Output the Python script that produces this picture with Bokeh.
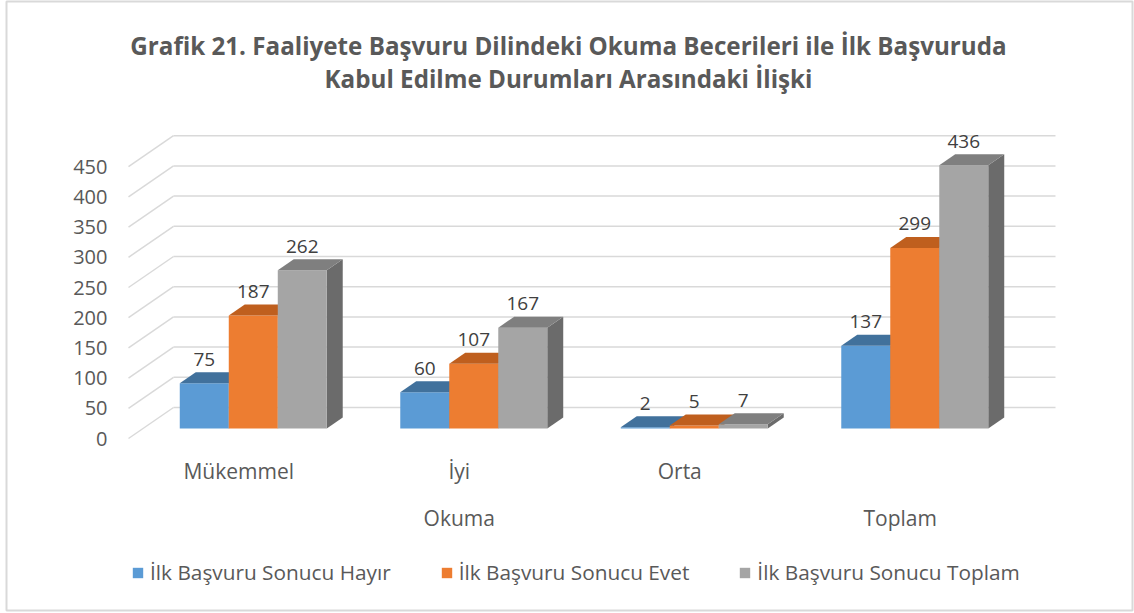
from bokeh.plotting import figure
from bokeh.models import (Range1d, LinearAxis, FixedTicker, Legend, LegendItem)
from bokeh.embed import file_html
from bokeh.resources import INLINE
from bokeh.core.properties import value

# ---------------- data ----------------
title_lines = ["Grafik 21. Faaliyete Başvuru Dilindeki Okuma Becerileri ile İlk Başvuruda",
               "Kabul Edilme Durumları Arasındaki İlişki"]
categories = ["Mükemmel", "İyi", "Orta", ""]
group_labels = ["Okuma", "Toplam"]
group_members = [[0, 1, 2], [3]]
series_names = ["İlk Başvuru Sonucu Hayır", "İlk Başvuru Sonucu Evet", "İlk Başvuru Sonucu Toplam"]
hayir = [75, 60, 2, 137]
evet = [187, 107, 5, 299]
toplam = [262, 167, 7, 436]
y_ticks = [0, 50, 100, 150, 200, 250, 300, 350, 400, 450]
series_values = [hayir, evet, toplam]

# ---------------- style ----------------
front_colors = ["#5b9bd5", "#ed7d31", "#a5a5a5"]
top_colors = ["#41719c", "#bf5f1e", "#7f7f7f"]
side_colors = ["#3a6792", "#a9561b", "#6b6b6b"]
FONT = "Open Sans"
TXT = "#595959"

PX_X = 220.5            # pixels per category
PX_Y = 0.604            # pixels per value unit
DXU = 45.0 / PX_X       # full depth offset (x, data units)
DYU = 31.0 / PX_Y       # full depth offset (y, data units)
Z1, Z2 = 10.0 / 31.0, 21.0 / 31.0   # bar front/back depth
BW = 49.0 / PX_X        # bar width

W, H = 1134, 613
FL, FR, FT, FB = 6, 1132, 1, 610        # frame (= chart border) in page px
x0_page = 238.25                        # page x of category 0 centre (front plane)
y0_page = 438.0                         # page y of value 0 (front plane)

def dx(px):   # page x -> data x
    return (px - x0_page) / PX_X

def dy(py):   # page y -> data y
    return (y0_page - py) / PX_Y

p = figure(width=W, height=H, output_backend="svg", toolbar_location=None,
           x_axis_type=None, y_axis_type=None, title=None,
           x_range=Range1d(dx(FL), dx(FR)), y_range=Range1d(dy(FB), dy(FT)),
           min_border_left=FL, min_border_right=W - FR,
           min_border_top=FT, min_border_bottom=H - FB)
p.outline_line_color = "#d9d9d9"
p.outline_line_width = 2
p.background_fill_color = "white"
p.border_fill_color = "white"

def proj(x, y, z):
    return x + z * DXU, y + z * DYU

# walls: back gridlines and left-wall diagonals
gx, gy = [], []
xmin, xmax = -0.5, len(categories) - 0.5
for v in y_ticks:
    a = proj(xmin, v, 1.0)
    b = proj(xmax, v, 1.0)
    gx.append([a[0], b[0]]); gy.append([a[1], b[1]])
    c = proj(xmin, v, 0.0)
    gx.append([c[0], a[0]]); gy.append([c[1], a[1]])
p.multi_line(gx, gy, line_color="#d9d9d9", line_width=1.5)

# bars
front_renderers = []
for s, vals in enumerate(series_values):
    fl, fr, fb, ft = [], [], [], []
    sxs, sys_, txs, tys = [], [], [], []
    lx, ly, lt = [], [], []
    for i, v in enumerate(vals):
        xa = i - 1.5 * BW + s * BW
        xb = xa + BW
        l0, b0 = proj(xa, 0, Z1)
        r0, t0 = proj(xb, v, Z1)
        fl.append(l0); fr.append(r0); fb.append(b0); ft.append(t0)
        pts = [proj(xb, 0, Z1), proj(xb, v, Z1), proj(xb, v, Z2), proj(xb, 0, Z2)]
        sxs.append([q[0] for q in pts]); sys_.append([q[1] for q in pts])
        pts = [proj(xa, v, Z1), proj(xb, v, Z1), proj(xb, v, Z2), proj(xa, v, Z2)]
        txs.append([q[0] for q in pts]); tys.append([q[1] for q in pts])
        lx.append((l0 + r0) / 2); ly.append(t0 + 24.0 / PX_Y); lt.append(str(v))
    p.patches(sxs, sys_, fill_color=side_colors[s], line_color=None)
    fr_r = p.quad(left=fl, right=fr, bottom=fb, top=ft, fill_color=front_colors[s], line_color=None)
    p.patches(txs, tys, fill_color=top_colors[s], line_color=None)
    front_renderers.append(fr_r)
    p.text(x=lx, y=ly, text=lt, text_align="center", text_baseline="middle",
           text_font=value(FONT), text_font_size="19px", text_color="#404040")

# y axis (labels pulled into the chart area to sit just left of the wall)
yax = LinearAxis(ticker=FixedTicker(ticks=y_ticks))
yax.axis_line_color = None
yax.major_tick_line_color = None
yax.minor_tick_line_color = None
yax.major_tick_out = 0
yax.major_tick_in = 0
yax.minor_tick_out = 0
yax.major_label_text_font = FONT
yax.major_label_text_color = TXT
yax.major_label_text_font_size = "20px"
yax.major_label_standoff = FL - 107
p.add_layout(yax, "left")

# category labels (two levels)
p.text(x=[0, 1, 2], y=[dy(470)] * 3, text=categories[:3], text_align="center",
       text_baseline="middle", text_font=value(FONT), text_font_size="21px", text_color=TXT)
gpos = [sum(m) / len(m) for m in group_members]
p.text(x=gpos, y=[dy(517)] * len(gpos), text=group_labels, text_align="center",
       text_baseline="middle", text_font=value(FONT), text_font_size="21px", text_color=TXT)

# title
tc = dx(568)
p.text(x=[tc, tc], y=[dy(45), dy(78)], text=title_lines, text_align="center",
       text_baseline="middle", text_font=value(FONT), text_font_style="bold",
       text_font_size="24.2px", text_color=TXT)

legend = Legend(items=[LegendItem(label=n, renderers=[r]) for n, r in zip(series_names, front_renderers)],
                orientation="horizontal", location=(131 - FL, 24), border_line_color=None,
                background_fill_alpha=0, padding=0, margin=0, spacing=49,
                glyph_width=13, glyph_height=13, label_standoff=6,
                label_text_font=FONT, label_text_font_size="20.8px", label_text_color=TXT)
p.add_layout(legend)

open("out.html", "w").write(file_html(p, INLINE))
